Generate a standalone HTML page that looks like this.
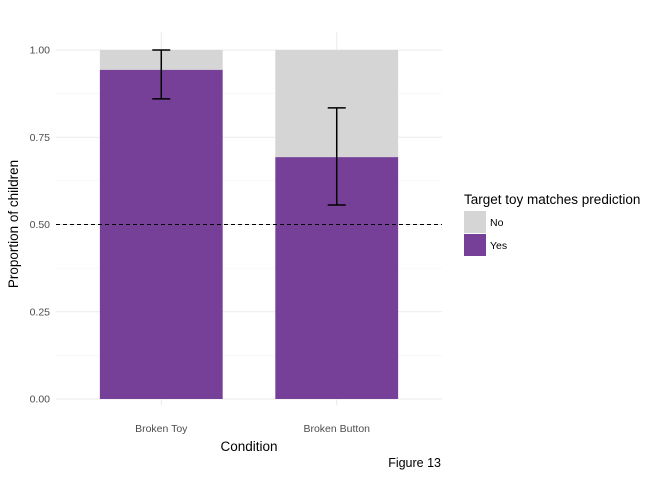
<!DOCTYPE html>
<html><head><meta charset="utf-8"><style>
body{margin:0;background:#fff;font-family:"Liberation Sans",sans-serif;}
</style></head><body>
<svg id="chart" width="672" height="480" xmlns="http://www.w3.org/2000/svg"></svg>
<script>
const categories=["Broken Toy","Broken Button"];
const yesValues=[0.943,0.693];
const errLow=[0.86,0.556];
const errHigh=[1.0,0.834];
const yTicks=[0,0.25,0.5,0.75,1.0];
const yTickLabels=["0.00","0.25","0.50","0.75","1.00"];
const refLine=0.5;

const svg=document.getElementById('chart');
const NS="http://www.w3.org/2000/svg";
function el(tag,attrs,parent){const e=document.createElementNS(NS,tag);for(const k in attrs)e.setAttribute(k,attrs[k]);(parent||svg).appendChild(e);return e;}
const y0=399,y1=50;
const yScale=v=>y0-(y0-y1)*v;
const left=56,right=442;
const step=(right-left)/(categories.length-1+1.2);
const xScale=i=>left+step*(0.6+i);
const bw=step*0.7;

// minor grid
for(let i=0;i<yTicks.length-1;i++){
 const l=el('line',{x1:left,x2:right,y1:yScale((yTicks[i]+yTicks[i+1])/2),y2:yScale((yTicks[i]+yTicks[i+1])/2),stroke:'#f2f2f2','stroke-width':0.6});
 
 
}
yTicks.forEach((t,i)=>{
 const l=el('line',{x1:left,x2:right,y1:yScale(t),y2:yScale(t),stroke:'#ebebeb','stroke-width':1.1});
 
 
 const tx=el('text',{x:50,y:yScale(t)+3.5,'text-anchor':'end','font-size':'10.5',fill:'#4d4d4d'});
 tx.textContent=yTickLabels[i];
 
 
});
categories.forEach((c,i)=>{
 const l=el('line',{x1:xScale(i),x2:xScale(i),y1:32,y2:405,stroke:'#ebebeb','stroke-width':1.1});
 
 
});
categories.forEach((c,i)=>{
 const x=xScale(i)-bw/2;
 const no=el('rect',{x:x,y:yScale(1),width:bw,height:yScale(yesValues[i])-yScale(1),fill:'#d5d5d5'});
 
 
 const yes=el('rect',{x:x,y:yScale(yesValues[i]),width:bw,height:yScale(0)-yScale(yesValues[i]),fill:'#763f98'});
 
 
 const tx=el('text',{x:xScale(i),y:432,'text-anchor':'middle','font-size':'10.5',fill:'#4d4d4d'});
 tx.textContent=c;
 
 
});
const rl=el('line',{x1:left,x2:right,y1:yScale(refLine),y2:yScale(refLine),stroke:'#000','stroke-width':1.1,'stroke-dasharray':'4,3'});


categories.forEach((c,i)=>{
 const g=el('g',{stroke:'#000','stroke-width':1.5,fill:'none'});
 
 
 const cx=xScale(i);
 el('line',{x1:cx,x2:cx,y1:yScale(errHigh[i]),y2:yScale(errLow[i])},g);
 el('line',{x1:cx-9,x2:cx+9,y1:yScale(errHigh[i]),y2:yScale(errHigh[i])},g);
 el('line',{x1:cx-9,x2:cx+9,y1:yScale(errLow[i]),y2:yScale(errLow[i])},g);
});
</script>
<svg style="position:absolute;left:0;top:0" width="672" height="480" xmlns="http://www.w3.org/2000/svg">
<text x="249" y="451" text-anchor="middle" font-size="13.5" fill="#000">Condition</text>
<text transform="translate(18,224) rotate(-90)" text-anchor="middle" font-size="13.5" fill="#000">Proportion of children</text>
<text x="441" y="467" text-anchor="end" font-size="12.5" fill="#000">Figure 13</text>
<g>
<text x="464" y="204" font-size="13.5" fill="#000">Target toy matches prediction</text>
<rect x="464" y="211" width="22" height="22" fill="#d5d5d5"/>
<text x="490" y="226" font-size="10.5" fill="#000">No</text>
<rect x="464" y="234" width="22" height="22" fill="#763f98"/>
<text x="490" y="249" font-size="10.5" fill="#000">Yes</text>
</g>
</svg>
</body></html>
